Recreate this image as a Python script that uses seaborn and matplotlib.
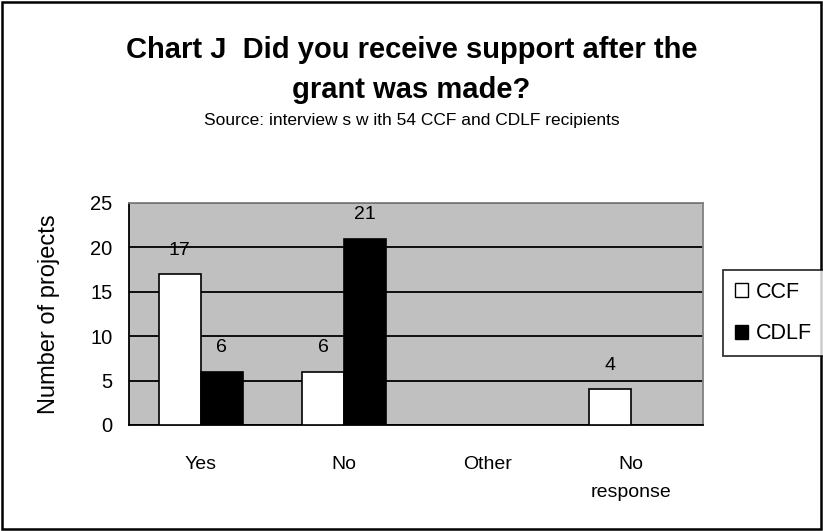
import numpy as np
import pandas as pd
import matplotlib
matplotlib.use("Agg")
import matplotlib.pyplot as plt
from matplotlib.patches import Rectangle, Patch
import seaborn as sns

categories = ["Yes", "No", "Other", "No\nresponse"]
series = ["CCF", "CDLF"]
ccf_values = [17, 6, np.nan, 4]
cdlf_values = [6, 21, np.nan, np.nan]
y_ticks = [0, 5, 10, 15, 20, 25]
title_text = "Chart J  Did you receive support after the\ngrant was made?"
subtitle_text = "Source: interview s w ith 54 CCF and CDLF recipients"
y_label = "Number of projects"

df = pd.DataFrame({
    "category": categories * 2,
    "series": ["CCF"] * len(categories) + ["CDLF"] * len(categories),
    "value": ccf_values + cdlf_values,
})

sns.set_style("white")
plt.rcParams["font.family"] = ["Liberation Sans", "DejaVu Sans"]
plt.rcParams["text.color"] = "black"
plt.rcParams["axes.labelcolor"] = "black"
plt.rcParams["xtick.color"] = "black"
plt.rcParams["ytick.color"] = "black"

fig = plt.figure(figsize=(8.23, 5.31), dpi=100)
ax = fig.add_axes([129 / 823, 1 - 425 / 531, (703 - 129) / 823, (425 - 203) / 531])
ax.set_facecolor("#C0C0C0")

sns.barplot(data=df.dropna(), x="category", y="value", hue="series",
            order=categories, hue_order=series,
            palette={"CCF": "white", "CDLF": "black"},
            edgecolor="black", linewidth=1.2, width=0.585,
            ax=ax, legend=False, zorder=3)

# data labels
for cont in ax.containers:
    for bar in cont:
        h = bar.get_height()
        if np.isnan(h) or h == 0:
            continue
        ax.annotate(f"{int(h)}", (bar.get_x() + bar.get_width() / 2, h),
                    xytext=(0, 11), textcoords="offset points",
                    ha="center", va="bottom", fontsize=14, color="black", zorder=4)

ax.set_xlim(-0.5, len(categories) - 0.5)
ax.set_ylim(0, 25)
ax.set_yticks(y_ticks)
ax.set_yticklabels([str(t) for t in y_ticks], fontsize=14.5)
ax.yaxis.grid(True, color="black", linewidth=1.3, zorder=1)
ax.set_axisbelow(True)

ax.set_xticks(range(len(categories)))
ax.set_xticklabels(categories, fontsize=14, linespacing=1.85)
ax.set_xticks(np.arange(-0.5, len(categories), 1.0), minor=True)
ax.tick_params(axis="x", which="major", length=0, pad=22)
ax.tick_params(axis="x", which="minor", length=6, width=1.2, direction="out", color="black")
ax.tick_params(axis="y", which="major", length=6, width=1.2, direction="out", color="black", pad=6)
ax.set_xlabel("")
ax.set_ylabel(y_label, fontsize=17, labelpad=22)

for side in ["left", "bottom"]:
    ax.spines[side].set_color("black")
    ax.spines[side].set_linewidth(1.3)
for side in ["top", "right"]:
    ax.spines[side].set_color("#808080")
    ax.spines[side].set_linewidth(1.3)

# legend
handles = [Patch(facecolor="white", edgecolor="black", linewidth=1),
           Patch(facecolor="black", edgecolor="black", linewidth=1)]
leg = fig.legend(handles, series, loc="upper left",
                 bbox_to_anchor=(723 / 823, 1 - 270 / 531),
                 bbox_transform=fig.transFigure, fontsize=15.5,
                 frameon=True, fancybox=False, edgecolor="black",
                 handlelength=0.6, handleheight=0.6, handletextpad=0.4,
                 borderpad=0.55, labelspacing=0.95, borderaxespad=0)
leg.get_frame().set_linewidth(1.3)

# titles
fig.text(0.5, 1 - 70 / 531, title_text, ha="center", va="center",
         fontsize=21, fontweight="bold", linespacing=1.5)
fig.text(0.5, 1 - 121 / 531, subtitle_text, ha="center", va="center", fontsize=12.5)

# outer border
fig.patches.append(Rectangle((0.002, 0.003), 0.995, 0.993, transform=fig.transFigure,
                             fill=False, edgecolor="black", linewidth=1.8))

fig.savefig("out.png", dpi=100)
